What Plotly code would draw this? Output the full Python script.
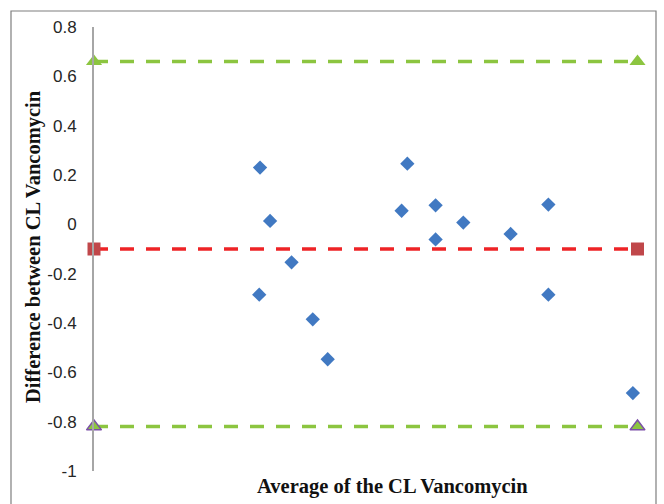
import plotly.graph_objects as go

# ---- data ----
avg_cl = [6.11, 6.48, 7.27, 6.08, 8.05, 8.60, 11.32, 11.53, 12.57, 12.57, 13.59, 15.33, 16.72, 16.72, 19.83]
diff_cl = [0.230, 0.014, -0.154, -0.285, -0.385, -0.547, 0.055, 0.246, 0.077, -0.061, 0.007, -0.039, 0.080, -0.285, -0.684]
line_x = [0, 20]
mean_diff = -0.10
upper_loa = 0.66
lower_loa = -0.82
y_ticks = [-1, -0.8, -0.6, -0.4, -0.2, 0, 0.2, 0.4, 0.6, 0.8]
y_tick_text = ["-1", "-0.8", "-0.6", "-0.4", "-0.2", "0", "0.2", "0.4", "0.6", "0.8"]

W, H = 664, 504
L, R, T, B = 94, 14, 27, 33
PW, PH = W - L - R, H - T - B

def px_x(px):
    return (px - L) / PW

def px_y(py):
    return (H - B - py) / PH

GREEN = "#8CC540"
RED_LINE = "#EE2326"
RED_SQ = "#C0474A"
BLUE = "#4179C2"
PURPLE = "#7B4FA8"
DASH = "14px,12px"

fig = go.Figure()

fig.add_trace(go.Scatter(
    x=line_x, y=[upper_loa] * 2, mode="lines+markers",
    line=dict(color=GREEN, width=3.5, dash=DASH),
    marker=dict(symbol="triangle-up", size=14, color=GREEN),
    cliponaxis=False, showlegend=False))
fig.add_trace(go.Scatter(
    x=line_x, y=[lower_loa] * 2, mode="lines+markers",
    line=dict(color=GREEN, width=3.5, dash=DASH),
    marker=dict(symbol="triangle-up", size=13, color=GREEN,
                line=dict(color=PURPLE, width=1.5)),
    cliponaxis=False, showlegend=False))
fig.add_trace(go.Scatter(
    x=line_x, y=[mean_diff] * 2, mode="lines+markers",
    line=dict(color=RED_LINE, width=3.5, dash=DASH),
    marker=dict(symbol="square", size=13, color=RED_SQ),
    cliponaxis=False, showlegend=False))
fig.add_trace(go.Scatter(
    x=avg_cl, y=diff_cl, mode="markers",
    marker=dict(symbol="diamond", size=11, color=BLUE),
    cliponaxis=False, showlegend=False))

fig.update_layout(
    width=W, height=H,
    margin=dict(l=L, r=R, t=T, b=B),
    paper_bgcolor="white", plot_bgcolor="white",
    xaxis=dict(range=[0, 20 * PW / 543.5], visible=False, fixedrange=True),
    yaxis=dict(range=[-1, 0.8], tickvals=y_ticks, ticktext=y_tick_text,
               showline=True, linecolor="#A6A6A6", linewidth=2,
               showgrid=False, zeroline=False, ticks="",
               ticklabelstandoff=12,
               tickfont=dict(family="Liberation Sans", size=17, color="#262626")),
    shapes=[dict(type="rect", xref="paper", yref="paper",
                 x0=px_x(11), x1=px_x(656), y0=px_y(515), y1=px_y(11),
                 line=dict(color="#7F7F7F", width=1.2), layer="below")],
    annotations=[
        dict(text="<b>Difference between CL Vancomycin</b>", xref="paper", yref="paper",
             x=px_x(33), y=px_y(247), xanchor="center", yanchor="middle",
             textangle=-90, showarrow=False,
             font=dict(family="Liberation Serif", size=20.5, color="#111111")),
        dict(text="<b>Average of the CL Vancomycin</b>", xref="paper", yref="paper",
             x=px_x(392), y=px_y(486), xanchor="center", yanchor="middle",
             showarrow=False,
             font=dict(family="Liberation Serif", size=20.5, color="#111111")),
    ],
)

fig.write_html("out.html")
